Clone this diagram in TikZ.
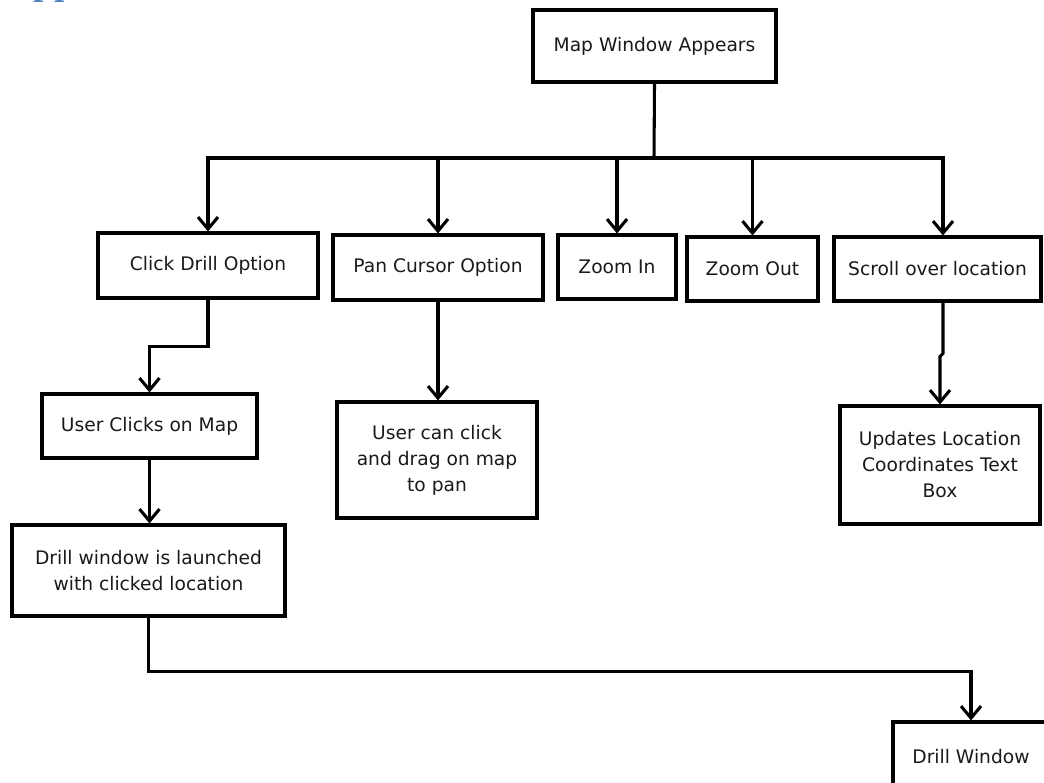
\documentclass[tikz,border=0pt]{standalone}
\usepackage{fontspec}
\setmainfont{DejaVu Sans}
\newfontfamily\headfont{Liberation Serif}
\usetikzlibrary{arrows.meta,calc}
\newdimen\px \px=0.75pt
\definecolor{headblue}{HTML}{4F81BD}
\definecolor{ink}{HTML}{1A1A1A}
\begin{document}
\begin{tikzpicture}[x=0.75pt,y=-0.75pt,
  box/.style={draw,line width=2.3pt,fill=white,inner sep=0pt,align=center,
    text=ink,font=\fontsize{14}{19.5}\selectfont},
  link/.style={line width=2.3pt},
  arr/.style={link,-{Straight Barb[length=9pt,width=15pt]}}]
\clip (0,0) rectangle (1044,782);
\fill[white] (0,0) rectangle (1044,782);

% heading of the page above the chart (only its descenders fall inside)
\node[anchor=base west,inner sep=0pt,text=headblue,
  font=\headfont\bfseries\fontsize{28}{30}\selectfont] (head) at (33,-5.5) {pp};

% boxes
\node[box,minimum width=243\px,minimum height=72\px] (top) at (654.5,46) {Map Window Appears};
\node[box,minimum width=220\px,minimum height=65\px] (click) at (208,265.5) {Click Drill Option};
\node[box,minimum width=210\px,minimum height=65\px] (pan) at (438,267.5) {Pan Cursor Option};
\node[box,minimum width=118\px,minimum height=64\px] (zin) at (617,267) {Zoom In};
\node[box,minimum width=131\px,minimum height=64\px] (zout) at (752.5,269) {Zoom Out};
\node[box,minimum width=207\px,minimum height=64\px] (scroll) at (937.5,269) {Scroll over location};
\node[box,minimum width=215\px,minimum height=64\px] (uclick) at (149.5,426) {User Clicks on Map};
\node[box,minimum width=273\px,minimum height=91\px] (launch) at (148.5,570.5) {Drill window is launched\\with clicked location};
\node[box,minimum width=200\px,minimum height=116\px] (drag) at (437,460) {User can click\\and drag on map\\to pan};
\node[box,minimum width=200\px,minimum height=118\px] (upd) at (940,465) {Updates Location\\Coordinates Text\\Box};
\node[box,minimum width=156\px,minimum height=70\px] (dwin) at (971,757) {Drill Window};

% connectors
\coordinate (bus) at (654,158);
\draw[link] (top.south) -- (bus);
\draw[arr] (bus) -| (click.north);
\draw[arr] (bus) -| (pan.north);
\draw[arr] (bus) -| (zin.north);
\draw[arr] (bus) -| (zout.north);
\draw[arr] (bus) -| ($(scroll.north)+(5.5,0)$);
\draw[arr] (click.south) -- ++(0,47) -| (uclick.north);
\draw[arr] (uclick.south) -- (uclick.south |- launch.north);
\draw[arr] (pan.south) -- (pan.south |- drag.north);
\draw[arr] ($(scroll.south)+(5.5,0)$) -- ++(0,51) -- ++(-3,3) -- (upd.north);
\draw[arr] (launch.south) -- ++(0,54) -| (dwin.north);
\end{tikzpicture}
\end{document}
